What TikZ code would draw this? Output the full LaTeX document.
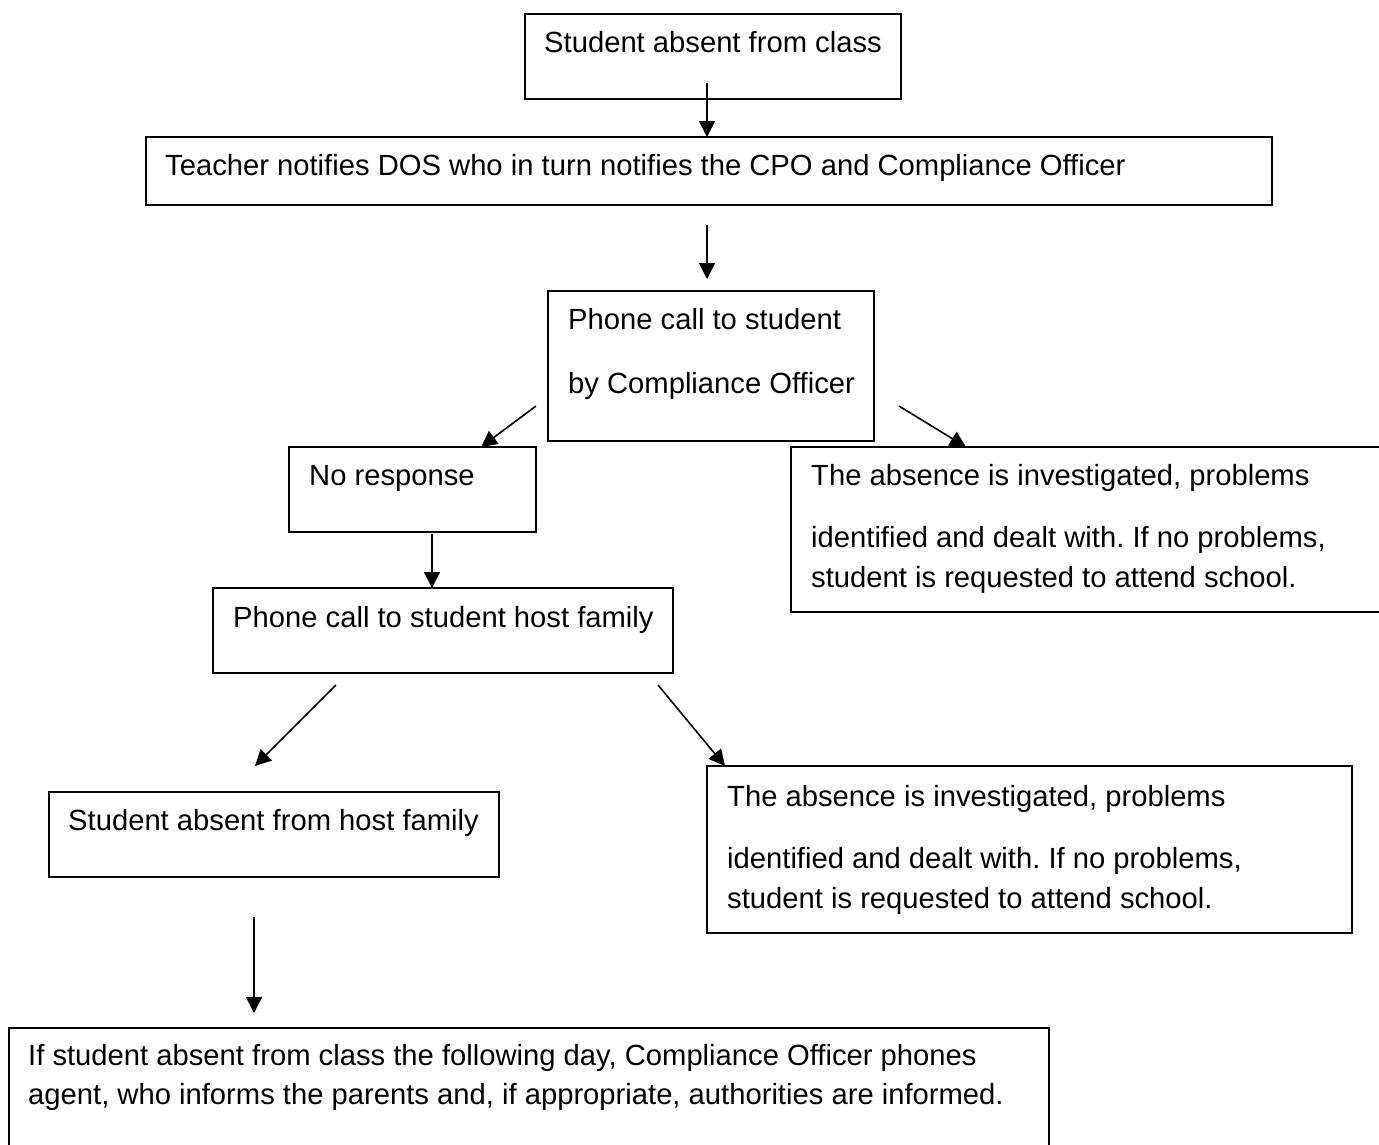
\documentclass[tikz,border=0pt]{standalone}
\usepackage{fontspec}
\setmainfont{Liberation Sans}
\usetikzlibrary{arrows.meta,fit}
\frenchspacing
\begin{document}
\begin{tikzpicture}[x=1pt,y=-1pt,
  box/.style={draw, line width=2pt, inner sep=0pt},
  txt/.style={anchor=base west, inner sep=0pt, font=\fontsize{29.2pt}{35pt}\selectfont},
  arr/.style={line width=1.6pt, -{Triangle[length=16pt,width=16pt]}}]
\clip (0,0) rectangle (1379,1144);
\fill[white] (0,0) rectangle (1379,1144);
% boxes
\node[box, fit={(525,14) (901,99)}] (b1) {};
\node[box, fit={(146,137) (1272,205)}] (b2) {};
\node[box, fit={(548,291) (874,441)}] (b3) {};
\node[box, fit={(289,447) (536,532)}] (b4) {};
\node[box, fit={(791,447) (1420,612)}] (b5) {};
\node[box, fit={(213,588) (673,673)}] (b6) {};
\node[box, fit={(49,792) (499,877)}] (b7) {};
\node[box, fit={(707,766) (1352,933)}] (b8) {};
\node[box, fit={(9,1028) (1049,1180)}] (b9) {};
% texts
\node[txt] (t1) at (544,52) {Student absent from class};
\node[txt] (t2) at (165,175) {Teacher notifies DOS who in turn notifies the CPO and Compliance Officer};
\node[txt] (t3a) at (568,329) {Phone call to student};
\node[txt] (t3b) at (568,393) {by Compliance Officer};
\node[txt] (t4) at (309,485) {No response};
\node[txt] (t5a) at (811,485) {The absence is investigated, problems};
\node[txt] (t5b) at (811,547) {identified and dealt with. If no problems,};
\node[txt] (t5c) at (811,587) {student is requested to attend school.};
\node[txt] (t6) at (233,627) {Phone call to student host family};
\node[txt] (t7) at (68,830) {Student absent from host family};
\node[txt] (t8a) at (727,806) {The absence is investigated, problems};
\node[txt] (t8b) at (727,868) {identified and dealt with. If no problems,};
\node[txt] (t8c) at (727,908) {student is requested to attend school.};
\node[txt] (t9a) at (28,1065) {If student absent from class the following day, Compliance Officer phones};
\node[txt] (t9b) at (28,1104) {agent, who informs the parents and, if appropriate, authorities are informed.};
% arrow end points
\coordinate (a1s) at (707,83);  \coordinate (a1e) at (707,137);
\coordinate (a2s) at (707,225); \coordinate (a2e) at (707,279);
\coordinate (a3s) at (536,406); \coordinate (a3e) at (481,447);
\coordinate (a4s) at (899,406); \coordinate (a4e) at (966,447);
\coordinate (a5s) at (432,534); \coordinate (a5e) at (432,588);
\coordinate (a6s) at (336,685); \coordinate (a6e) at (255,766);
\coordinate (a7s) at (658,685); \coordinate (a7e) at (725,766);
\coordinate (a8s) at (254,917); \coordinate (a8e) at (254,1013);
\draw[arr] (a1s) -- (a1e);
\draw[arr] (a2s) -- (a2e);
\draw[arr] (a3s) -- (a3e);
\draw[arr] (a4s) -- (a4e);
\draw[arr] (a5s) -- (a5e);
\draw[arr] (a6s) -- (a6e);
\draw[arr] (a7s) -- (a7e);
\draw[arr] (a8s) -- (a8e);
\end{tikzpicture}
\end{document}
